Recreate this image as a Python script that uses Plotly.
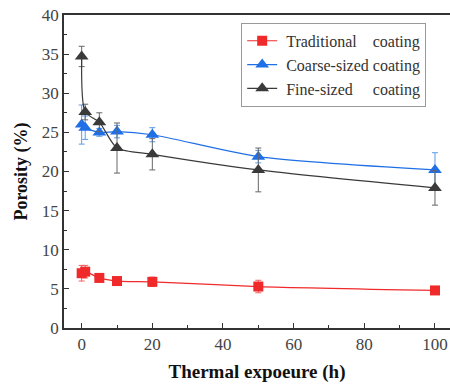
import plotly.graph_objects as go

hours = [0, 1, 5, 10, 20, 50, 100]
trad = [7.0, 7.2, 6.4, 6.0, 5.9, 5.3, 4.8]
trad_err = [1.0, 0.8, 0.5, 0.5, 0.6, 0.8, 0.4]
coarse = [26.0, 25.6, 25.0, 25.1, 24.7, 21.9, 20.2]
coarse_err = [2.5, 1.5, 0.5, 0.8, 0.9, 0.8, 2.2]
fine = [34.7, 27.6, 26.3, 23.0, 22.2, 20.2, 17.9]
fine_err = [1.3, 1.0, 1.2, 3.2, 2.0, 2.8, 2.2]

names = ["\u00a0Traditional\u00a0\u00a0\u00a0\u00a0coating",
         "\u00a0Coarse-sized coating",
         "\u00a0Fine-sized\u00a0\u00a0\u00a0\u00a0\u00a0coating"]

FONT = "Liberation Serif"

fig = go.Figure()
series = [
    (trad, trad_err, "#f02a2a", "square", 10, "#f06060"),
    (coarse, coarse_err, "#1f6fe6", "triangle-up", 12, "#5a9ae8"),
    (fine, fine_err, "#3a3a3a", "triangle-up", 12, "#666666"),
]
for (ys, es, col, sym, sz, ecol), nm in zip(series, names):
    fig.add_trace(go.Scatter(
        x=hours, y=ys, name=nm, mode="lines+markers",
        line=dict(color=col, width=1.2, shape="spline", smoothing=0.7),
        marker=dict(symbol=sym, size=sz, color=col),
        error_y=dict(type="data", array=es, visible=True, color=ecol,
                     thickness=1, width=3),
    ))

fig.update_layout(
    width=450, height=387,
    margin=dict(l=64, r=0, t=15, b=59),
    paper_bgcolor="white", plot_bgcolor="white",
    font=dict(family=FONT, size=17, color="#444444"),
    showlegend=True,
    legend=dict(x=0.459, y=0.975, xanchor="left", yanchor="top",
                bgcolor="white", bordercolor="#999999", borderwidth=1,
                font=dict(family=FONT, size=16, color="#333333"),
                tracegroupgap=0, itemwidth=30),
)
fig.update_xaxes(
    range=[-5, 104.25], tickvals=[0, 20, 40, 60, 80, 100],
    showline=True, linecolor="#333333", linewidth=1.5, mirror=True,
    ticks="inside", ticklen=5, tickcolor="#333333",
    minor=dict(ticks="inside", ticklen=3, dtick=10, tickcolor="#333333"),
    showgrid=False, zeroline=False, automargin=False,
    ticklabeloverflow="allow",
    tickfont=dict(family=FONT, size=17, color="#444444"),
    title=dict(text="<b>Thermal expoeure (h)</b>",
               font=dict(family=FONT, size=19, color="#111111"), standoff=12),
)
fig.update_yaxes(
    range=[0, 40], tickvals=[0, 5, 10, 15, 20, 25, 30, 35, 40],
    showline=True, linecolor="#333333", linewidth=1.5, mirror=False,
    ticks="inside", ticklen=5, tickcolor="#333333",
    minor=dict(ticks="inside", ticklen=3, dtick=2.5, tickcolor="#333333"),
    showgrid=False, zeroline=False, automargin=False,
    ticklabeloverflow="allow",
    tickfont=dict(family=FONT, size=17, color="#444444"),
    title=dict(text="<b>Porosity (%)</b>",
               font=dict(family=FONT, size=18, color="#111111"), standoff=10),
)
fig.write_html(
    "out.html",
    config={"displayModeBar": False},
    post_script="document.body.style.margin='0';document.body.style.overflow='hidden';",
)
